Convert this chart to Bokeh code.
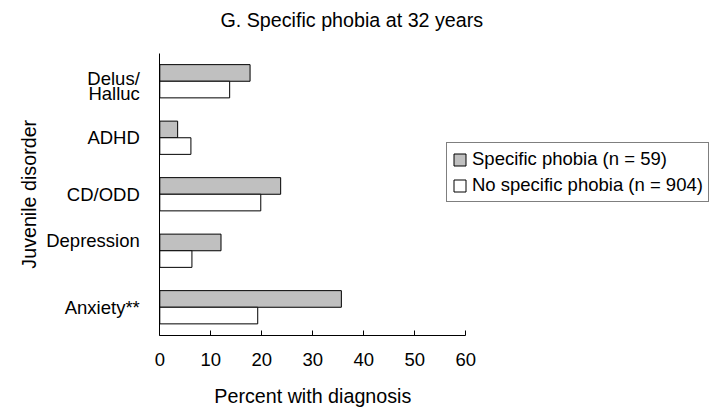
import math
from bokeh.plotting import figure
from bokeh.models import (Range1d, FixedTicker, ColumnDataSource, Legend, LegendItem, Label)
from bokeh.embed import file_html
from bokeh.resources import INLINE

# ---- data ----
categories = ["Delus/\nHalluc", "ADHD", "CD/ODD", "Depression", "Anxiety**"]
phobia = [17.7, 3.5, 23.7, 12.0, 35.6]
no_phobia = [13.7, 6.1, 19.8, 6.3, 19.2]
x_ticks = [0, 10, 20, 30, 40, 50, 60]
x_max = 60
title_text = "G. Specific phobia at 32 years"
x_title = "Percent with diagnosis"
y_title = "Juvenile disorder"
legend_labels = ["Specific phobia (n = 59)", "No specific phobia (n = 904)"]

# ---- layout / style ----
W, H = 711, 409
FONT = "Liberation Sans"
FS = "18.5px"          # tick / legend text
FS_T = "19.7px"        # titles
GRAY = "#c0c0c0"
X0_PX, XU_PX = 159.3, 5.1       # screen x of value 0, px per percent
Y0_PX, YU_PX = 335.0, 56.5      # screen y of axis, px per category band
label_shift = [4.5, 0, 0, -10.5, 0]    # px, downward, per category label
line_gap = 15                          # px between lines of a label

n = len(categories)
centers = [n - i - 0.5 for i in range(n)]
bar_h = 0.294

x_range = Range1d(-X0_PX / XU_PX, (W - X0_PX) / XU_PX)
y_range = Range1d(-(H - Y0_PX) / YU_PX, Y0_PX / YU_PX)

p = figure(width=W, height=H, output_backend="svg", toolbar_location=None,
           x_range=x_range, y_range=y_range, title_location=None,
           min_border_left=0, min_border_right=0, min_border_top=0,
           min_border_bottom=0)
p.outline_line_color = None
p.xgrid.visible = False
p.ygrid.visible = False

src = ColumnDataSource(dict(
    y_g=[c + bar_h / 2 for c in centers],
    y_w=[c - bar_h / 2 for c in centers],
    phobia=phobia, no_phobia=no_phobia))
r1 = p.hbar(y="y_g", right="phobia", left=0, height=bar_h, source=src,
            fill_color=GRAY, line_color="black", line_width=1)
r2 = p.hbar(y="y_w", right="no_phobia", left=0, height=bar_h, source=src,
            fill_color="white", line_color="black", line_width=1)

xa = p.xaxis[0]
xa.fixed_location = 0
xa.ticker = FixedTicker(ticks=x_ticks)
xa.bounds = (0, x_max)
xa.major_tick_in = 5
xa.major_tick_out = 0
xa.minor_tick_in = 0
xa.minor_tick_out = 0
xa.axis_line_color = "black"
xa.major_tick_line_color = "black"
xa.major_label_text_font = FONT
xa.major_label_text_font_size = FS
xa.major_label_text_color = "black"
xa.major_label_standoff = 17

# y axis: category labels as ticks
ticks, overrides = [], {}
for i, cat in enumerate(categories):
    lines = cat.split("\n")
    m = len(lines)
    for k, line in enumerate(lines):
        dy_px = label_shift[i] + (k - (m - 1) / 2) * line_gap
        t = centers[i] - dy_px / YU_PX
        ticks.append(t)
        overrides[t] = line

ya = p.yaxis[0]
ya.fixed_location = 0
ya.bounds = (0, n)
ya.ticker = FixedTicker(ticks=ticks)
ya.major_label_overrides = overrides
ya.major_tick_in = 0
ya.major_tick_out = 0
ya.minor_tick_in = 0
ya.minor_tick_out = 0
ya.axis_line_color = "black"
ya.major_label_text_font = FONT
ya.major_label_text_font_size = FS
ya.major_label_text_color = "black"
ya.major_label_standoff = 20

# titles
p.add_layout(Label(x=11.9, y=n, y_offset=33, text=title_text,
                   text_align="left", text_baseline="alphabetic",
                   text_font=FONT, text_font_size=FS_T, text_color="black"))
p.add_layout(Label(x=x_max / 2, y=0, y_offset=-60, text=x_title,
                   text_align="center", text_baseline="alphabetic",
                   text_font=FONT, text_font_size=FS_T, text_color="black"))
p.add_layout(Label(x=0, y=n / 2, x_offset=-131.3, text=y_title, angle=math.pi / 2,
                   text_align="center", text_baseline="middle",
                   text_font=FONT, text_font_size=FS_T, text_color="black"))

legend = Legend(items=[LegendItem(label=legend_labels[0], renderers=[r1]),
                       LegendItem(label=legend_labels[1], renderers=[r2])],
                location=(446, 207), orientation="vertical",
                border_line_color="black", border_line_width=1,
                padding=5, spacing=4, margin=0,
                glyph_width=15, glyph_height=15, label_standoff=5,
                label_text_font=FONT, label_text_font_size=FS,
                label_text_color="black", background_fill_alpha=1)
p.add_layout(legend)

open("out.html", "w").write(file_html(p, INLINE))
